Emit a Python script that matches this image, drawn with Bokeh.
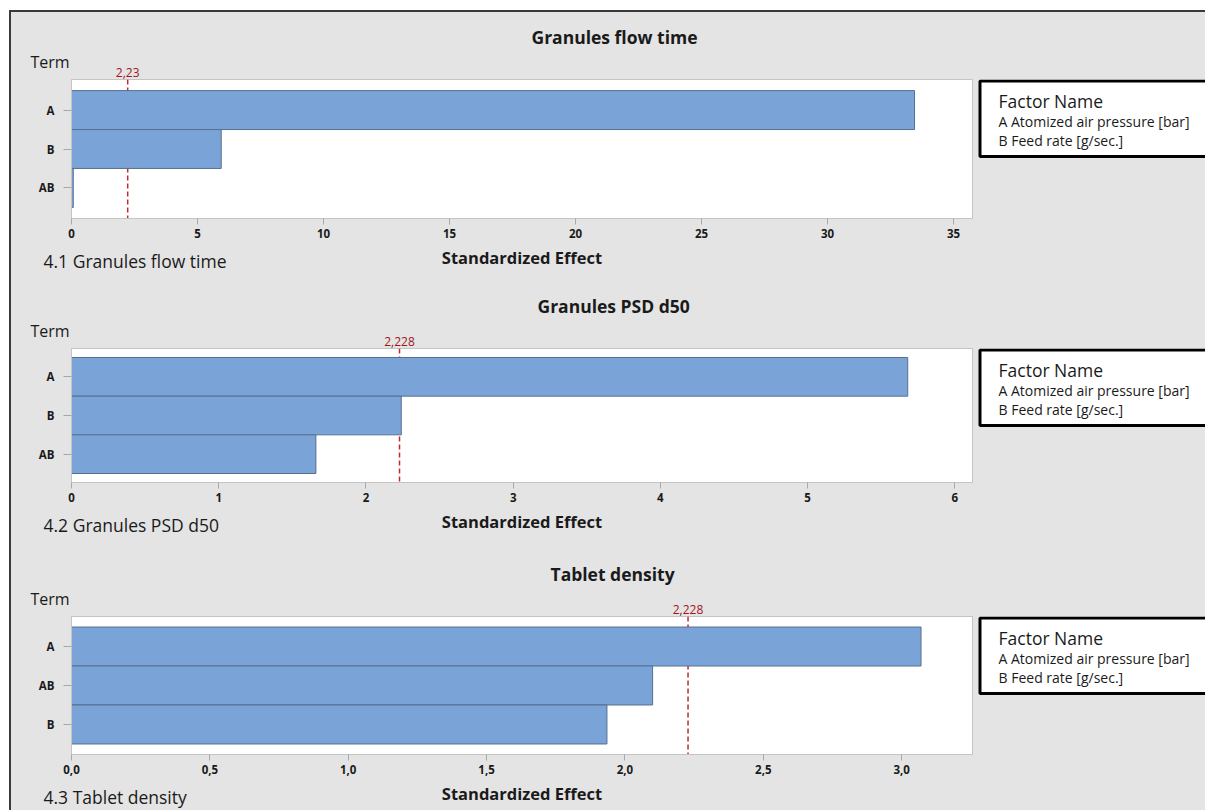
from bokeh.plotting import figure
from bokeh.layouts import column, row
from bokeh.models import (ColumnDataSource, FactorRange, Range1d, Span, Label, Title,
                          BoxAnnotation, FixedTicker, LinearAxis)
from bokeh.embed import file_html
from bokeh.resources import INLINE

# ---- data -------------------------------------------------------------
titles = ["Granules flow time", "Granules PSD d50", "Tablet density"]
captions = ["4.1 Granules flow time", "4.2 Granules PSD d50", "4.3 Tablet density"]

flow_terms = ["A", "B", "AB"]
flow_effects = [33.45, 5.94, 0.07]

psd_terms = ["A", "B", "AB"]
psd_effects = [5.68, 2.24, 1.66]

density_terms = ["A", "AB", "B"]
density_effects = [3.07, 2.10, 1.935]

ref_values = [2.23, 2.228, 2.228]
ref_labels = ["2,23", "2,228", "2,228"]

flow_ticks = [0, 5, 10, 15, 20, 25, 30, 35]
flow_tick_labels = ["0", "5", "10", "15", "20", "25", "30", "35"]
psd_ticks = [0, 1, 2, 3, 4, 5, 6]
psd_tick_labels = ["0", "1", "2", "3", "4", "5", "6"]
density_ticks = [0.0, 0.5, 1.0, 1.5, 2.0, 2.5, 3.0]
density_tick_labels = ["0,0", "0,5", "1,0", "1,5", "2,0", "2,5", "3,0"]

x_ends = [35.75, 6.12, 3.256]

axis_title = "Standardized Effect"
term_label = "Term"
legend_title = "Factor Name"
legend_lines = ["A Atomized air pressure [bar]", "B Feed rate [g/sec.]"]

# ---- style ------------------------------------------------------------
FONT = "Open Sans"
BG = "#e4e4e4"
BAR_FILL = "#7aa4d7"
BAR_LINE = "#56708f"
REF_LINE = "#c8262c"
REF_TEXT = "#a3151c"
TEXT = "#1a1a1a"
FRAME = "#c4c4c4"

CHART_W = 965
LEGEND_W = 229


def flat(size_px, extra=0):
    """Standoff that shrinks a title's slot to `extra` px (text centred on the slot)."""
    return -(2 + round(1.31 * size_px)) + extra


def title(text, size_px, bold=False, align="left", offset=0, standoff=None):
    return Title(text=text, align=align, offset=offset,
                 standoff=flat(size_px) if standoff is None else standoff,
                 vertical_align="middle", text_font=FONT, text_font_size=f"{size_px}px",
                 text_font_style="bold" if bold else "normal", text_color=TEXT)


def style_axis(ax, tick_out, standoff):
    ax.axis_line_color = FRAME
    ax.major_tick_line_color = "#a8a8a8"
    ax.major_tick_out = tick_out
    ax.major_tick_in = 0
    ax.minor_tick_line_color = None
    ax.major_label_standoff = standoff
    ax.major_label_text_font = FONT
    ax.major_label_text_font_size = "11.5px"
    ax.major_label_text_font_style = "bold"
    ax.major_label_text_color = TEXT


def make_chart(idx, terms, effects, ticks, tick_labels, height, b_top, b_bottom, pad, title_offset):
    src = ColumnDataSource(dict(term=terms, effect=effects))
    p = figure(width=CHART_W, height=height, title=None,
               y_range=FactorRange(factors=list(reversed(terms)), range_padding=pad),
               x_range=Range1d(0, x_ends[idx]),
               output_backend="svg", toolbar_location=None,
               min_border_left=60, min_border_right=4,
               min_border_top=b_top, min_border_bottom=b_bottom)
    p.background_fill_color = "white"
    p.border_fill_color = BG
    p.outline_line_color = FRAME
    p.xgrid.visible = False
    p.ygrid.visible = False

    # significance reference line, drawn beneath the bars
    p.add_layout(Span(location=ref_values[idx], dimension="height", line_color=REF_LINE,
                      line_dash="5 3", line_width=1.5, level="underlay"))

    p.hbar(y="term", left=0, right="effect", height=1, source=src,
           fill_color=BAR_FILL, line_color=BAR_LINE, line_width=1)

    xa = p.xaxis[0]
    xa.ticker = FixedTicker(ticks=ticks)
    xa.major_label_overrides = dict(zip(ticks, tick_labels))
    style_axis(xa, 6, 4)
    style_axis(p.yaxis[0], 8, 9)

    # value of the reference line, labelled just above the frame
    ref_axis = LinearAxis(ticker=FixedTicker(ticks=[ref_values[idx]]),
                          major_label_overrides={ref_values[idx]: ref_labels[idx]})
    ref_axis.axis_line_color = None
    ref_axis.major_tick_line_color = None
    ref_axis.major_tick_out = 0
    ref_axis.major_tick_in = 0
    ref_axis.minor_tick_line_color = None
    ref_axis.major_label_standoff = 3
    ref_axis.major_label_text_font = FONT
    ref_axis.major_label_text_font_size = "12px"
    ref_axis.major_label_text_color = REF_TEXT
    p.add_layout(ref_axis, "above")
    p.add_layout(title(term_label, 16, offset=-41, standoff=flat(16, 4)), "above")
    p.add_layout(title(titles[idx], 17.5, bold=True, offset=title_offset, standoff=20), "above")

    # spacer slot, then the axis title and the caption sharing one line
    p.add_layout(Title(text=" ", text_font_size="2px", standoff=12), "below")
    p.add_layout(title(axis_title, 16.5, bold=True, align="center"), "below")
    p.add_layout(title(captions[idx], 17.5, offset=-28, standoff=flat(17.5, 5)), "below")
    return p


def make_legend(height, b_top, b_bottom):
    frame_h = height - b_top - b_bottom
    lg = figure(width=LEGEND_W, height=height, title=None,
                x_range=Range1d(0, 1), y_range=Range1d(0, 1),
                x_axis_location=None, y_axis_location=None,
                output_backend="svg", toolbar_location=None,
                min_border_left=0, min_border_right=0,
                min_border_top=b_top, min_border_bottom=b_bottom)
    lg.background_fill_color = BG
    lg.border_fill_color = BG
    lg.outline_line_color = None
    lg.xgrid.visible = False
    lg.ygrid.visible = False
    top = frame_h - 1.5
    lg.add_layout(BoxAnnotation(left=3.5, right=LEGEND_W + 20, top=top, bottom=top - 75.5,
                                left_units="screen", right_units="screen",
                                top_units="screen", bottom_units="screen",
                                fill_color="white", fill_alpha=1.0,
                                line_color="black", line_alpha=1.0, line_width=3))
    for text, dy, size in [(legend_title, 21, "17.5px"),
                           (legend_lines[0], 42, "14px"),
                           (legend_lines[1], 61, "14px")]:
        lg.add_layout(Label(x=22, y=frame_h - dy, x_units="screen", y_units="screen",
                            text=text, text_font=FONT, text_font_size=size,
                            text_color=TEXT, text_baseline="middle"))
    return lg


p1 = make_chart(0, flow_terms, flow_effects, flow_ticks, flow_tick_labels, 270, 67, 64, 0.19, 460)
p2 = make_chart(1, psd_terms, psd_effects, psd_ticks, psd_tick_labels, 268, 66, 68, 0.155, 466)
p3 = make_chart(2, density_terms, density_effects, density_ticks, density_tick_labels,
                260, 66, 56, 0.18, 479)

l1 = make_legend(270, 67, 64)
l2 = make_legend(268, 66, 68)
l3 = make_legend(260, 66, 56)

layout = column(row(p1, l1), row(p2, l2), row(p3, l3), spacing=0,
                margin=(10, 0, 0, 9),
                styles={"border-left": "2px solid #3a3a3a", "border-top": "2px solid #3a3a3a",
                        "background-color": BG})

open("out.html", "w").write(file_html(layout, INLINE))
